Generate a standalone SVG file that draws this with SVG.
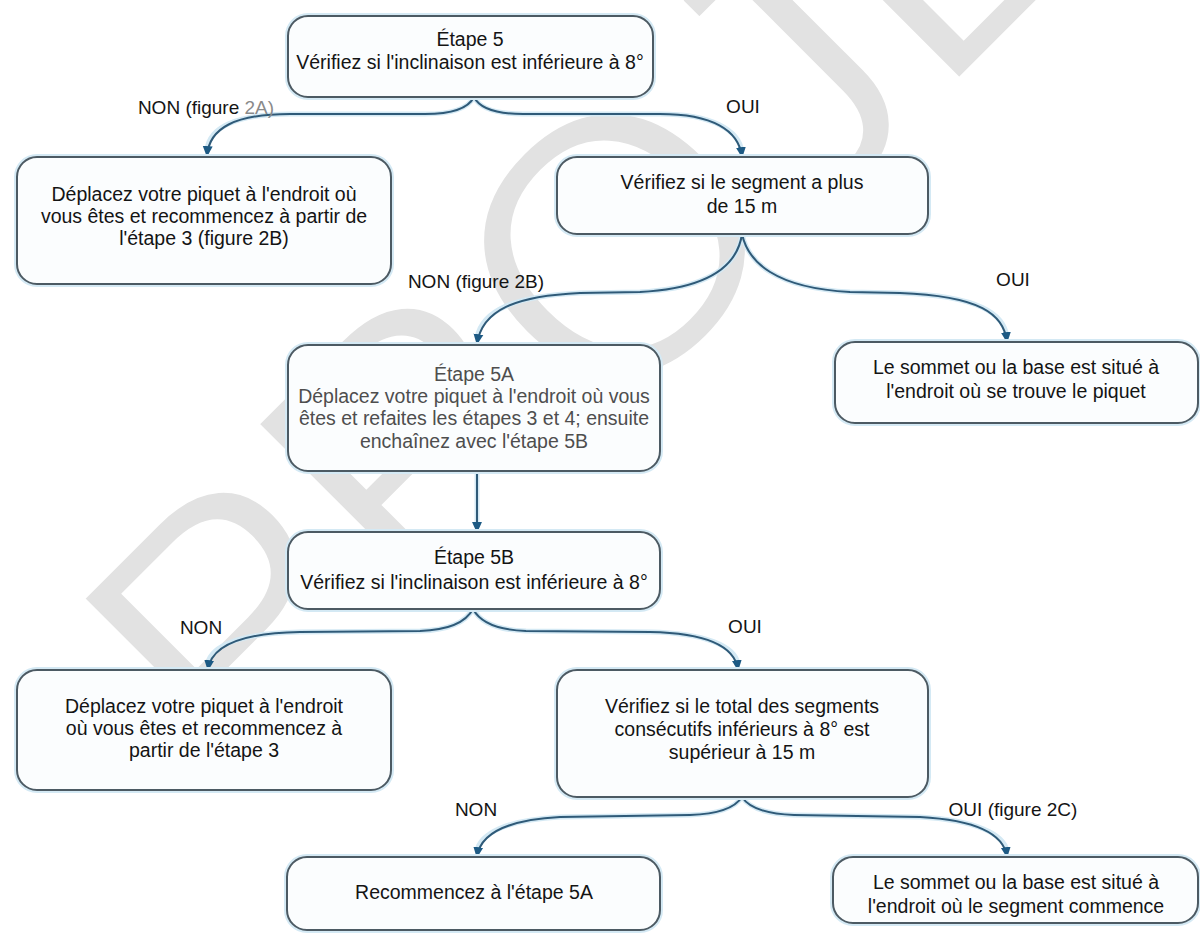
<svg xmlns="http://www.w3.org/2000/svg" width="1200" height="933" viewBox="0 0 1200 933">
  <defs>
    <marker id="ah" viewBox="0 0 10 10" refX="9" refY="5" markerWidth="11" markerHeight="11" markerUnits="userSpaceOnUse" orient="auto">
      <path d="M0,0.5 L10,5 L0,9.5 z" fill="#1d5a84"/>
    </marker>
    <style>
      .wm { font-family: "Liberation Sans", Arial, sans-serif; font-size: 370px; fill: #e2e2e2; stroke: #ffffff; stroke-width: 6; }
      .box { fill: #fbfdfe; stroke: #4c5a63; stroke-width: 2; }
      .halo { fill: none; stroke: #d4e9f4; stroke-width: 6; }
      .t { font-family: "Liberation Sans", Arial, sans-serif; font-size: 19.5px; fill: #141414; text-anchor: middle; }
      .dim { fill: #4e4e4e; }
      .lbl { font-family: "Liberation Sans", Arial, sans-serif; font-size: 19px; fill: #141414; text-anchor: middle; }
      .edge { fill: none; stroke: #2f5a78; stroke-width: 2; marker-end: url(#ah); }
      .edgehalo { fill: none; stroke: #d4e9f4; stroke-width: 5; }
    </style>
    <clipPath id="page"><rect width="1200" height="933"/></clipPath>
  </defs>

  <rect width="1200" height="933" fill="#ffffff"/>

  <!-- draft watermark behind the chart -->
  <g clip-path="url(#page)">
    <text class="wm" x="240" y="800" transform="rotate(-45 240 800)">PROJET</text>
  </g>

  <!-- connectors -->
  <g id="connectors">
    <g class="edgehalo">
      <path d="M474,97 C468,109 452,114 425,114 L290,114 C235,114 209,128 207,150"/>
      <path d="M474,97 C480,109 496,114 523,114 L660,114 C712,114 739,130 742,152"/>
      <path d="M742,234 C738,262 715,288 640,292 L580,293 C515,296 482,310 477,338"/>
      <path d="M742,234 C748,262 775,288 850,292 L900,293 C980,296 1004,314 1007,337"/>
      <path d="M477,471 L477,527"/>
      <path d="M473,609 C466,622 450,630 420,631 L300,632 C240,633 211,646 208,663"/>
      <path d="M473,609 C480,622 496,630 526,631 L650,632 C705,633 735,646 738,664"/>
      <path d="M742,797 C735,808 718,814 690,815 L560,817 C505,820 480,834 477,851"/>
      <path d="M742,797 C749,808 766,814 794,815 L920,817 C975,820 1004,834 1007,851"/>
    </g>
    <path class="edge" d="M474,97 C468,109 452,114 425,114 L290,114 C235,114 209,128 207,156"/>
    <path class="edge" d="M474,97 C480,109 496,114 523,114 L660,114 C712,114 739,130 742,157"/>
    <path class="edge" d="M742,234 C738,262 715,288 640,292 L580,293 C515,296 482,310 477,344"/>
    <path class="edge" d="M742,234 C748,262 775,288 850,292 L900,293 C980,296 1004,314 1007,342"/>
    <path class="edge" d="M477,471 L477,532"/>
    <path class="edge" d="M473,609 C466,622 450,630 420,631 L300,632 C240,633 211,646 208,670"/>
    <path class="edge" d="M473,609 C480,622 496,630 526,631 L650,632 C705,633 735,646 738,670"/>
    <path class="edge" d="M742,797 C735,808 718,814 690,815 L560,817 C505,820 480,834 477,857"/>
    <path class="edge" d="M742,797 C749,808 766,814 794,815 L920,817 C975,820 1004,834 1007,857"/>
  </g>

  <!-- branch labels -->
  <g id="labels">
    <text class="lbl" x="206" y="114">NON (figure <tspan fill="#8a8a8a">2A)</tspan></text>
    <text class="lbl" x="743" y="113">OUI</text>
    <text class="lbl" x="476" y="288">NON (figure 2B)</text>
    <text class="lbl" x="1013" y="286">OUI</text>
    <text class="lbl" x="201" y="634">NON</text>
    <text class="lbl" x="745" y="633">OUI</text>
    <text class="lbl" x="476" y="816">NON</text>
    <text class="lbl" x="1013" y="816">OUI (figure 2C)</text>
  </g>

  <!-- nodes -->
  <g id="etape5">
    <rect class="halo" x="288" y="16" width="365" height="81" rx="20"/>
    <rect class="box" x="288" y="16" width="365" height="81" rx="20"/>
    <text class="t" x="470" y="46">Étape 5</text>
    <text class="t" x="470" y="69">Vérifiez si l'inclinaison est inférieure à 8°</text>
  </g>

  <g id="deplacer-2b">
    <rect class="halo" x="17" y="157" width="374" height="127" rx="20"/>
    <rect class="box" x="17" y="157" width="374" height="127" rx="20"/>
    <text class="t" x="204" y="201">Déplacez votre piquet à l'endroit où</text>
    <text class="t" x="204" y="223">vous êtes et recommencez à partir de</text>
    <text class="t" x="204" y="245">l'étape 3 (figure 2B)</text>
  </g>

  <g id="segment-15m">
    <rect class="halo" x="557" y="157" width="371" height="77" rx="20"/>
    <rect class="box" x="557" y="157" width="371" height="77" rx="20"/>
    <text class="t" x="742" y="189">Vérifiez si le segment a plus</text>
    <text class="t" x="742" y="213">de 15 m</text>
  </g>

  <g id="etape5a">
    <rect class="halo" x="288" y="345" width="372" height="126" rx="20"/>
    <rect class="box" x="288" y="345" width="372" height="126" rx="20"/>
    <text class="t dim" x="474" y="381">Étape 5A</text>
    <text class="t dim" x="474" y="403">Déplacez votre piquet à l'endroit où vous</text>
    <text class="t dim" x="474" y="425">êtes et refaites les étapes 3 et 4; ensuite</text>
    <text class="t dim" x="474" y="448">enchaînez avec l'étape 5B</text>
  </g>

  <g id="sommet-piquet">
    <rect class="halo" x="835" y="342" width="363" height="81" rx="20"/>
    <rect class="box" x="835" y="342" width="363" height="81" rx="20"/>
    <text class="t" x="1016" y="374">Le sommet ou la base est situé à</text>
    <text class="t" x="1016" y="398">l'endroit où se trouve le piquet</text>
  </g>

  <g id="etape5b">
    <rect class="halo" x="288" y="532" width="372" height="77" rx="20"/>
    <rect class="box" x="288" y="532" width="372" height="77" rx="20"/>
    <text class="t" x="474" y="564">Étape 5B</text>
    <text class="t" x="474" y="589">Vérifiez si l'inclinaison est inférieure à 8°</text>
  </g>

  <g id="deplacer-3">
    <rect class="halo" x="17" y="670" width="374" height="120" rx="20"/>
    <rect class="box" x="17" y="670" width="374" height="120" rx="20"/>
    <text class="t" x="204" y="713">Déplacez votre piquet à l'endroit</text>
    <text class="t" x="204" y="735">où vous êtes et recommencez à</text>
    <text class="t" x="204" y="757">partir de l'étape 3</text>
  </g>

  <g id="total-segments">
    <rect class="halo" x="557" y="670" width="371" height="127" rx="20"/>
    <rect class="box" x="557" y="670" width="371" height="127" rx="20"/>
    <text class="t" x="742" y="713">Vérifiez si le total des segments</text>
    <text class="t" x="742" y="736">consécutifs inférieurs à 8° est</text>
    <text class="t" x="742" y="759">supérieur à 15 m</text>
  </g>

  <g id="recommencer-5a">
    <rect class="halo" x="287" y="857" width="373" height="73" rx="20"/>
    <rect class="box" x="287" y="857" width="373" height="73" rx="20"/>
    <text class="t" x="474" y="899">Recommencez à l'étape 5A</text>
  </g>

  <g id="sommet-segment">
    <rect class="halo" x="833" y="857" width="365" height="66" rx="20"/>
    <rect class="box" x="833" y="857" width="365" height="66" rx="20"/>
    <text class="t" x="1016" y="889">Le sommet ou la base est situé à</text>
    <text class="t" x="1016" y="913">l'endroit où le segment commence</text>
  </g>
</svg>
